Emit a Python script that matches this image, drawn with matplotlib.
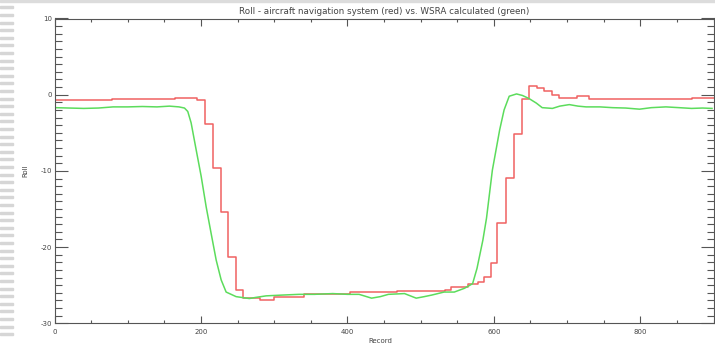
import matplotlib
matplotlib.use('Agg')
import matplotlib.pyplot as plt
import matplotlib.ticker as ticker
from matplotlib.patches import Rectangle

# aircraft navigation roll (step-like, red)
nav_x = [0, 79, 132, 164, 195, 205, 216, 227, 236.5, 248, 258, 280, 300, 341, 403,
         468, 533, 542, 565, 578, 586, 596, 605, 617, 627, 638, 648, 659, 669, 680,
         689, 713, 730, 870, 900]
nav_roll = [-0.75, -0.57, -0.55, -0.44, -0.66, -3.8, -9.6, -15.4, -21.3, -25.6, -26.7,
            -27.0, -26.6, -26.1, -25.9, -25.8, -25.6, -25.3, -24.9, -24.6, -23.9, -22.1,
            -16.8, -10.9, -5.1, -0.5, 1.2, 0.9, 0.5, 0.0, -0.4, -0.2, -0.5, -0.4, -0.4]

# WSRA calculated roll (smooth, green)
wsra_x = [0, 20, 40, 60, 80, 100, 120, 140, 157, 170, 177.5, 182, 186.6, 193.4, 200.3,
          207.1, 213.9, 220.8, 227.6, 234.4, 248, 266, 275, 289, 310, 334, 355, 380, 400,
          416, 433, 445, 456, 478, 494, 505, 515, 532, 546, 560, 571, 577, 585, 590,
          598, 608, 614, 621, 631, 639, 648, 658, 666, 680, 690, 703, 715, 726, 745,
          762, 780, 799, 815, 835, 853, 870, 885, 898]
wsra_roll = [-1.7, -1.75, -1.8, -1.75, -1.6, -1.6, -1.55, -1.6, -1.5, -1.6, -1.75, -2.2,
             -3.7, -7.2, -10.7, -14.7, -18.2, -21.7, -24.3, -25.9, -26.5, -26.75, -26.6,
             -26.4, -26.3, -26.2, -26.2, -26.1, -26.2, -26.2, -26.7, -26.5,
             -26.2, -26.1, -26.7, -26.5, -26.3, -25.9, -25.9, -25.4, -24.8, -22.8, -19.1,
             -16.2, -9.9, -4.6, -2.0, -0.2, 0.1, -0.1, -0.5, -1.1, -1.7, -1.8, -1.5, -1.3,
             -1.5, -1.6, -1.6, -1.7, -1.75, -1.9, -1.7, -1.6, -1.7, -1.8, -1.75, -1.8]

plt.rcParams['axes.unicode_minus'] = False
fig = plt.figure(figsize=(7.15, 3.43), dpi=100)

# page decoration: grey bar on top, dashes on the left
fig.patches.append(Rectangle((0, 1 - 2/343), 1, 2/343, transform=fig.transFigure,
                             color='#dcdcdc', zorder=0))
for k in range(45):
    yy = 343 - (7.3 + 7.6 * k)
    if yy < 2:
        break
    fig.patches.append(Rectangle((0, (yy - 1) / 343), 12.5/715, 2/343,
                                 transform=fig.transFigure, color='#d6d6d6', zorder=0))

ax = fig.add_axes([54.5/715, (343-323.3)/343, 659/715, (323.3-18.5)/343])
ax.plot(nav_x, nav_roll, drawstyle='steps-post', color='#f06262', lw=1.1)
ax.plot(wsra_x, wsra_roll, color='#5cdc5c', lw=1.1)

ax.set_xlim(0, 900)
ax.set_ylim(-30, 10)
ax.xaxis.set_major_locator(ticker.MultipleLocator(200))
ax.xaxis.set_minor_locator(ticker.MultipleLocator(50))
ax.yaxis.set_major_locator(ticker.MultipleLocator(10))
ax.yaxis.set_minor_locator(ticker.MultipleLocator(1))

tc = '#555555'
for s in ax.spines.values():
    s.set_color(tc)
    s.set_linewidth(0.8)
ax.tick_params(axis='both', which='both', direction='in', top=True, right=True,
               color=tc, width=0.8, labelcolor='#444444', labelsize=5)
ax.tick_params(axis='x', which='major', length=5, pad=4)
ax.tick_params(axis='x', which='minor', length=2.5)
ax.tick_params(axis='y', which='major', length=9.4, pad=1.5)
ax.tick_params(axis='y', which='minor', length=5)

ax.set_title('Roll - aircraft navigation system (red) vs. WSRA calculated (green)',
             fontsize=6.3, color='#444444', pad=3)
ax.set_ylabel('Roll', fontsize=5, color='#444444')
ax.yaxis.set_label_coords(-0.039, 0.5)
ax.set_xlabel('Record', fontsize=5, color='#444444')
ax.xaxis.set_label_coords(0.495, -0.047)

fig.savefig('out.png', dpi=100)
